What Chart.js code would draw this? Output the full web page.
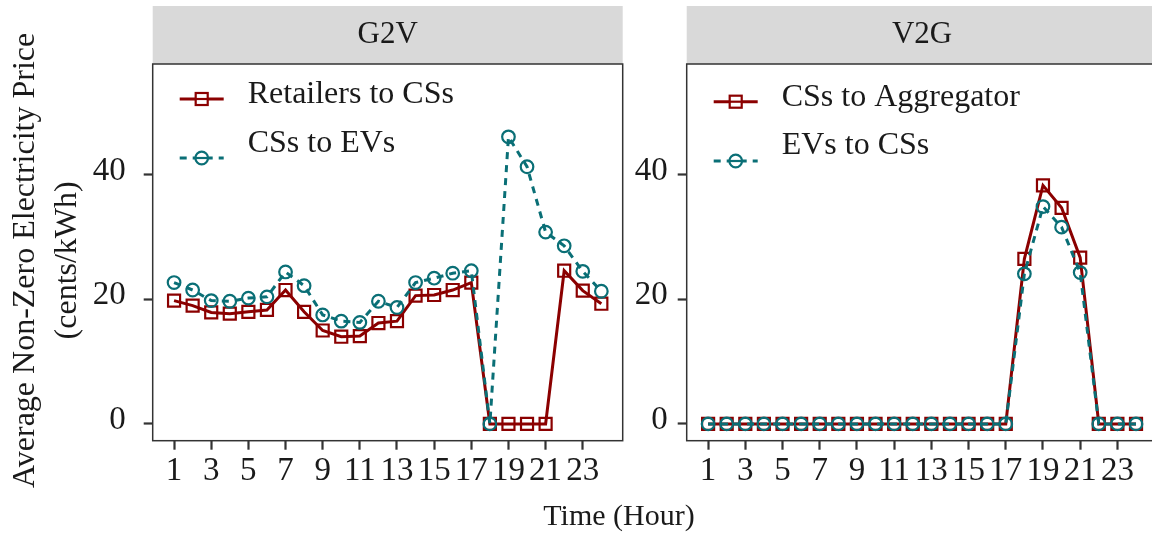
<!DOCTYPE html>
<html><head><meta charset="utf-8">
<script src="https://cdn.jsdelivr.net/npm/chart.js@4.4.1/dist/chart.umd.min.js"></script>
<style>
html,body{margin:0;padding:0;background:#fff;overflow:hidden;width:1152px;height:533px;}
canvas{position:absolute;top:0;}
#c1{left:0;}
#c2{left:600px;}
#xt{position:absolute;left:469px;width:300px;top:497px;text-align:center;font:30px "Liberation Serif";line-height:36px;color:#1a1a1a;}
</style></head><body>
<canvas id="c1" width="640" height="533"></canvas>
<canvas id="c2" width="600" height="533"></canvas>
<div id="xt">Time (Hour)</div>
<script>
// ---- data ----
const hours = [1,2,3,4,5,6,7,8,9,10,11,12,13,14,15,16,17,18,19,20,21,22,23,24];
const xTicks = [1,3,5,7,9,11,13,15,17,19,21,23];
const yTicks = [0,20,40];
const panelNames = ['G2V','V2G'];
const g2vSeriesNames = ['Retailers to CSs','CSs to EVs'];
const v2gSeriesNames = ['CSs to Aggregator','EVs to CSs'];
const g2vRetailersToCSs = [19.8,19.0,17.9,17.7,18.0,18.3,21.5,18.0,15.0,14.0,14.1,16.2,16.5,20.6,20.7,21.5,22.7,0,0,0,0,24.6,21.4,19.3];
const g2vCSsToEVs      = [22.7,21.5,19.8,19.7,20.2,20.4,24.4,22.2,17.5,16.5,16.3,19.7,18.7,22.7,23.4,24.2,24.6,0,46.1,41.3,30.8,28.6,24.5,21.3];
const v2gCSsToAggregator = [0,0,0,0,0,0,0,0,0,0,0,0,0,0,0,0,0,26.5,38.3,34.7,26.7,0,0,0];
const v2gEVsToCSs        = [0,0,0,0,0,0,0,0,0,0,0,0,0,0,0,0,0,24.1,34.9,31.6,24.3,0,0,0];
const yTitle = ['Average Non-Zero Electricity Price','(cents/kWh)'];

// ---- style ----
const FONT = 'Liberation Serif';
const RED = '#8B0000';
const TEAL = '#0A6F76';
const TXT = '#1a1a1a';
const X_MIN = -0.15, X_MAX = 25.15;
const Y_MIN = -2.7, Y_MAX = 57.8;
const TITLE_SHIFT = '\u00a0\u00a0'; // nudges the centred rotated title a few px downward

function pts(vals){ return hours.map((h,i)=>({x:h,y:vals[i]})); }

function datasets(names, a, b){
  return [
    {label:names[0], data:pts(a), borderColor:RED, borderWidth:3, pointStyle:'rect',
     pointRadius:8.5, pointBorderWidth:2.2, pointBorderColor:RED, pointBackgroundColor:'rgba(0,0,0,0)', order:2, tension:0},
    {label:names[1], data:pts(b), borderColor:TEAL, borderWidth:3, borderDash:[7,6], pointStyle:'circle',
     pointRadius:6.3, pointBorderWidth:2.2, pointBorderColor:TEAL, pointBackgroundColor:'rgba(0,0,0,0)', order:1, tension:0}
  ];
}

const panelPlugin = {
  id:'panel',
  beforeDraw(chart, args, opts){
    const ca = chart.chartArea, ctx = chart.ctx;
    ctx.save();
    ctx.fillStyle = '#D9D9D9';
    ctx.fillRect(ca.left, 6, ca.right-ca.left, ca.top-6);
    ctx.restore();
  },
  afterDraw(chart, args, opts){
    const ca = chart.chartArea, ctx = chart.ctx;
    ctx.save();
    ctx.strokeStyle = '#333333';
    ctx.lineWidth = 1.5;
    ctx.strokeRect(ca.left, ca.top, ca.right-ca.left, ca.bottom-ca.top);
    // legend
    chart.data.datasets.forEach((ds,i)=>{
      const ly = opts.lineY[i], ty = opts.textY[i];
      const x0 = ca.left+27, x1 = ca.left+71, xm = ca.left+49;
      ctx.strokeStyle = ds.borderColor; ctx.lineWidth = ds.borderWidth;
      ctx.setLineDash(ds.borderDash||[]);
      ctx.beginPath(); ctx.moveTo(x0,ly); ctx.lineTo(x1,ly); ctx.stroke();
      ctx.setLineDash([]);
      ctx.lineWidth = ds.pointBorderWidth;
      ctx.fillStyle = '#fff';
      if (ds.pointStyle==='rect'){
        const s = ds.pointRadius*Math.SQRT1_2;
        ctx.fillRect(xm-s, ly-s, 2*s, 2*s);
        ctx.beginPath(); ctx.moveTo(xm-s,ly); ctx.lineTo(xm+s,ly); ctx.stroke();
        ctx.strokeRect(xm-s, ly-s, 2*s, 2*s);
      } else {
        ctx.beginPath(); ctx.arc(xm, ly, ds.pointRadius, 0, Math.PI*2); ctx.fill();
        ctx.beginPath(); ctx.moveTo(xm-ds.pointRadius,ly); ctx.lineTo(xm+ds.pointRadius,ly); ctx.stroke();
        ctx.beginPath(); ctx.arc(xm, ly, ds.pointRadius, 0, Math.PI*2); ctx.stroke();
      }
      ctx.fillStyle = TXT;
      ctx.font = '32px "'+FONT+'"';
      ctx.textBaseline = 'alphabetic';
      ctx.textAlign = 'left';
      ctx.fillText(ds.label, ca.left+95, ty);
    });
    ctx.restore();
  }
};

function makeChart(id, title, names, a, b, yWidth, padRight, tickPad, showYTitle, legendPos){
  return new Chart(document.getElementById(id), {
    type:'line',
    data:{datasets:datasets(names,a,b)},
    plugins:[panelPlugin],
    options:{
      responsive:false, animation:false, devicePixelRatio:1,
      layout:{padding:{left:0,right:padRight,top:6,bottom:0}},
      plugins:{
        legend:{display:false}, tooltip:{enabled:false},
        title:{display:true, text:title, fullSize:false, position:'top', color:TXT,
               font:{family:FONT,size:31,weight:'normal',lineHeight:1.2}, padding:{top:10.4,bottom:10.4}},
        panel:legendPos
      },
      scales:{
        x:{type:'linear', min:X_MIN, max:X_MAX,
           afterBuildTicks:ax=>{ ax.ticks = xTicks.map(v=>({value:v})); },
           afterFit:s=>{ s.height = 92.3; },
           grid:{drawOnChartArea:false, drawTicks:true, tickLength:9, tickWidth:2.2, tickColor:'#333'},
           border:{display:false},
           ticks:{autoSkip:false, maxRotation:0, minRotation:0, padding:2, color:TXT, font:{family:FONT,size:33}}},
        y:{type:'linear', min:Y_MIN, max:Y_MAX,
           afterBuildTicks:ax=>{ ax.ticks = yTicks.map(v=>({value:v})); },
           afterFit:s=>{ s.width = yWidth; },
           grid:{drawOnChartArea:false, drawTicks:true, tickLength:9, tickWidth:2.2, tickColor:'#333'},
           border:{display:false},
           title:{display:showYTitle, text:yTitle.map(t=>t+TITLE_SHIFT), color:TXT,
                  font:{family:FONT,size:32,lineHeight:1.3}, padding:{top:5,bottom:0}},
           ticks:{padding:tickPad, labelOffset:-4, color:TXT, font:{family:FONT,size:33}}}
      }
    }
  });
}

makeChart('c1', panelNames[0], g2vSeriesNames, g2vRetailersToCSs, g2vCSsToEVs, 152.7, 640-622.7, 18, true,
  {lineY:[99,158], textY:[102.7,152.3]});
makeChart('c2', panelNames[1], v2gSeriesNames, v2gCSsToAggregator, v2gEVsToCSs, 86.7, 600-557.4, 10, false,
  {lineY:[101.7,161], textY:[105.7,154.3]});
</script>
</body></html>
